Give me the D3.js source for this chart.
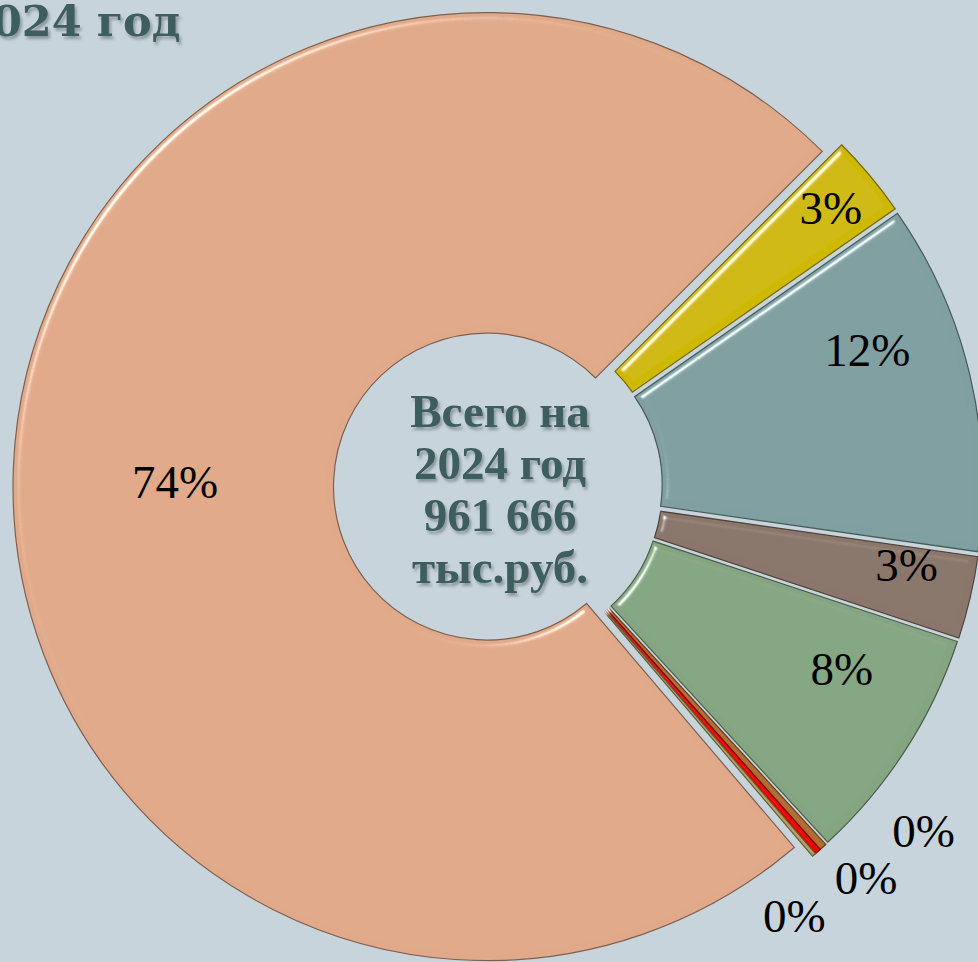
<!DOCTYPE html>
<html>
<head>
<meta charset="utf-8">
<script src="https://cdn.jsdelivr.net/npm/d3@7"></script>
<style>
  html, body { margin: 0; padding: 0; background: #c8d4db; }
  svg { display: block; }
</style>
</head>
<body>
<svg id="chart" width="978" height="962"></svg>
<script>
// chart data (тыс. руб.), clockwise from the yellow slice
var year = 2024;
var slices = ['s1', 's2', 's3', 's4', 's5', 's6', 's7', 's8'];
var values = [27000, 115000, 27000, 78000, 2400, 2000, 1266, 709000];
var colors = ['#cfb900', '#7f9fa0', '#8a766b', '#85a582', '#b06d32', '#f00000', '#b3a262', '#e0aa8a'];
var centerLines = ['Всего на', year + ' год', null, 'тыс.руб.'];

// label placement: angle shift (deg) from slice middle, distance from centre
var labelShift = [0, -7, -2.4, -5, -9, -2, 6, -1.4];
var labelDist  = [434, 394, 416, 389, 547, 537, 521, 323];

var svg = d3.select('#chart');
var width = +svg.attr('width'), height = +svg.attr('height');

var cx = 498, cy = 487,
    outerR = 474, innerR = 153.5,
    explode = 11;

var total = d3.sum(values);
var ru = d3.formatLocale({decimal: ',', thousands: ' ', grouping: [3], currency: ['', '']});
var pct = d3.format('.0%');

var defs = svg.append('defs');

// soft bevel like the office chart
var bevel = defs.append('filter').attr('id', 'bevel')
  .attr('x', '-5%').attr('y', '-5%').attr('width', '110%').attr('height', '110%');
bevel.append('feGaussianBlur').attr('in', 'SourceAlpha').attr('stdDeviation', 3.5).attr('result', 'blur');
bevel.append('feSpecularLighting').attr('in', 'blur')
  .attr('surfaceScale', 6).attr('specularConstant', 1).attr('specularExponent', 45)
  .attr('lighting-color', '#ffffff').attr('result', 'spec')
  .append('feDistantLight').attr('azimuth', 225).attr('elevation', 38);
bevel.append('feComposite').attr('in', 'spec').attr('in2', 'SourceAlpha')
  .attr('operator', 'in').attr('result', 'specIn');
bevel.append('feComposite').attr('in', 'SourceGraphic').attr('in2', 'specIn')
  .attr('operator', 'arithmetic').attr('k1', 0).attr('k2', 1).attr('k3', 0.8).attr('k4', 0);

var shadow = defs.append('filter').attr('id', 'txtShadow')
  .attr('x', '-10%').attr('y', '-10%').attr('width', '120%').attr('height', '130%');
shadow.append('feDropShadow').attr('dx', 2).attr('dy', 3).attr('stdDeviation', 1.6)
  .attr('flood-color', '#5a6468').attr('flood-opacity', 0.55);

var pie = d3.pie()
  .sort(null)
  .value(function(d) { return d; })
  .startAngle(Math.PI / 4)
  .endAngle(Math.PI / 4 + 2 * Math.PI);

var arc = d3.arc().innerRadius(innerR).outerRadius(outerR);

var arcs = pie(values);

function mid(d) { return (d.startAngle + d.endAngle) / 2; }

var g = svg.append('g').attr('transform', 'translate(' + cx + ',' + cy + ')');

g.selectAll('path.slice')
  .data(arcs)
  .enter()
  .append('path')
  .attr('class', 'slice')
  .attr('d', arc)
  .attr('fill', function(d, i) { return colors[i]; })
  .attr('stroke', function(d, i) { return d3.color(colors[i]).darker(1.6); })
  .attr('stroke-width', 1.2)
  .attr('filter', 'url(#bevel)')
  .attr('transform', function(d) {
    var a = mid(d);
    return 'translate(' + (explode * Math.sin(a)) + ',' + (-explode * Math.cos(a)) + ')';
  });

// percent labels
g.selectAll('text.lbl')
  .data(arcs)
  .enter()
  .append('text')
  .attr('class', 'lbl')
  .attr('x', function(d, i) { return labelDist[i] * Math.sin(mid(d) + labelShift[i] * Math.PI / 180); })
  .attr('y', function(d, i) { return -labelDist[i] * Math.cos(mid(d) + labelShift[i] * Math.PI / 180); })
  .attr('text-anchor', 'middle')
  .attr('dominant-baseline', 'central')
  .style('font-family', '"Liberation Serif", "DejaVu Serif", serif')
  .style('font-size', '47px')
  .style('fill', '#000')
  .text(function(d) { return pct(d.value / total); });

// centre caption
centerLines[2] = ru.format(',')(total);
svg.append('text')
  .attr('x', 500)
  .attr('y', 0)
  .attr('text-anchor', 'middle')
  .attr('filter', 'url(#txtShadow)')
  .style('font-family', '"Liberation Serif", "DejaVu Serif", serif')
  .style('font-weight', 'bold')
  .style('font-size', '47px')
  .style('fill', '#3e5d5e')
  .selectAll('tspan')
  .data(centerLines)
  .enter()
  .append('tspan')
  .attr('x', 500)
  .attr('y', function(d, i) { return 427 + i * 52; })
  .text(function(d) { return d; });

// title, cut at the left edge as in the original
svg.append('text')
  .attr('x', -38)
  .attr('y', 36)
  .attr('filter', 'url(#txtShadow)')
  .style('font-family', '"DejaVu Serif", serif')
  .style('font-weight', 'bold')
  .style('font-size', '43px')
  .style('fill', '#3e5d5e')
  .text(year + ' год');
</script>
</body>
</html>
